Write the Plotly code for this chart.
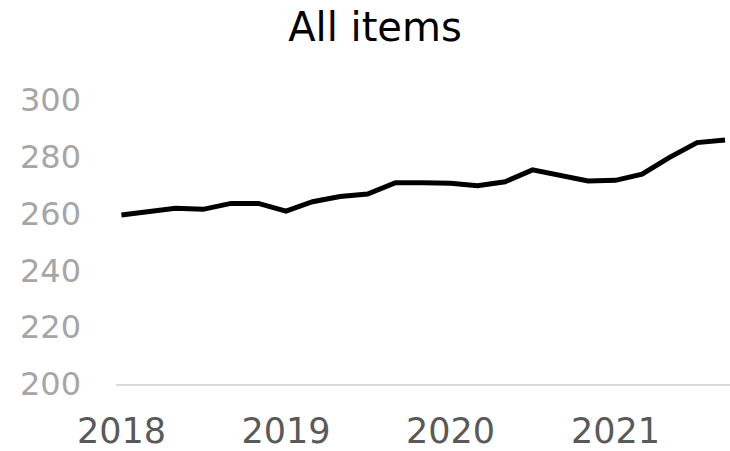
import plotly.graph_objects as go

dates = ["2018-01-01", "2018-03-01", "2018-05-01", "2018-07-01", "2018-09-01", "2018-11-01",
         "2019-01-01", "2019-03-01", "2019-05-01", "2019-07-01", "2019-09-01", "2019-11-01",
         "2020-01-01", "2020-03-01", "2020-05-01", "2020-07-01", "2020-09-01", "2020-11-01",
         "2021-01-01", "2021-03-01", "2021-05-01", "2021-07-01", "2021-09-01"]
values = [259.5, 260.5, 261.9, 261.5, 263.6, 263.6,
          260.9, 264.2, 266.0, 266.9, 270.9, 270.9,
          270.7, 269.8, 271.2, 275.4, 273.3, 271.5,
          271.7, 273.9, 279.8, 285.0, 285.9]
year_ticks = ["2018-01-01", "2019-01-01", "2020-01-01", "2021-01-01"]
year_labels = ["2018", "2019", "2020", "2021"]
y_ticks = [200, 220, 240, 260, 280, 300]

FONT = "DejaVu Sans"

fig = go.Figure()
fig.add_trace(go.Scatter(x=dates, y=values, mode="lines",
                         line=dict(color="#000000", width=5), hoverinfo="skip"))

fig.update_layout(
    width=730, height=451,
    margin=dict(l=116, r=0, t=100, b=67),
    paper_bgcolor="white", plot_bgcolor="white",
    showlegend=False,
    font=dict(family=FONT),
    title=dict(text="All items", x=375/730, xanchor="center",
               yref="container", y=1 - 27/451, yanchor="middle",
               font=dict(family=FONT, size=40, color="#000000")),
)
fig.update_xaxes(
    type="date", range=["2017-12-20", "2021-09-12"], automargin=False,
    tickmode="array", tickvals=year_ticks, ticktext=year_labels,
    showgrid=False, zeroline=False, showline=True, linecolor="#D9D9D9", linewidth=2,
    ticks="", ticklabelstandoff=15,
    tickfont=dict(family=FONT, size=35, color="#595959"),
)
fig.update_yaxes(
    range=[200, 300], tickmode="array", tickvals=y_ticks, automargin=False,
    showgrid=False, zeroline=False, showline=False,
    ticks="", ticklabelstandoff=34,
    tickfont=dict(family=FONT, size=32, color="#A6A6A6"),
)

fig.write_html("out.html")
